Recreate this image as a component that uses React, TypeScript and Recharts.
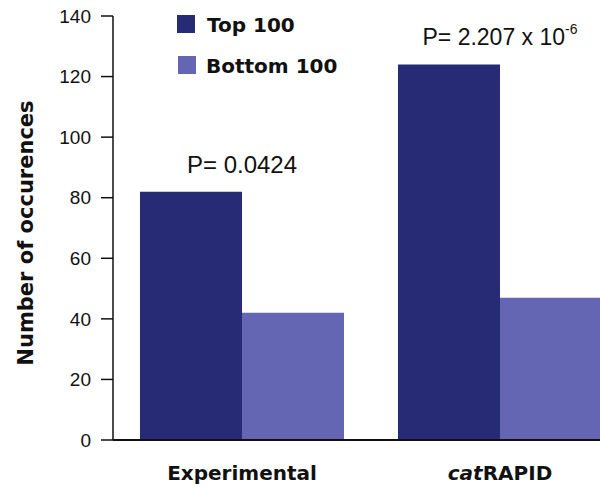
import React from 'react';
import { BarChart, Bar, XAxis, YAxis, Legend, LabelList } from 'recharts';

// Occurrence counts per method, split by top / bottom 100
const categories = ['Experimental', 'catRAPID'];
const top100 = [82, 124];
const bottom100 = [42, 47];

// Significance annotations above each group
const pBase = ['P= 0.0424', 'P= 2.207 x 10'];
const pExponent = ['', '-6'];

// Part of each category name set in italics
const italicPrefix = ['', 'cat'];

const yTicks = [0, 20, 40, 60, 80, 100, 120, 140];

const seriesNames = ['Top 100', 'Bottom 100'];
const TOP_COLOR = '#272A74';
const BOTTOM_COLOR = '#6466B4';
const INK = '#111111';

const BOLD_FONT = "'DejaVu Sans', sans-serif";
const PLAIN_FONT = "'Liberation Sans', Arial, sans-serif";

const data = categories.map((category, i) => ({
  category,
  top: top100[i],
  bottom: bottom100[i],
}));

const CategoryTick = (props: any) => {
  const { x, y, payload } = props;
  const name: string = payload.value;
  const idx = categories.indexOf(name);
  const prefix = idx >= 0 ? italicPrefix[idx] : '';
  const rest = name.slice(prefix.length);
  return (
    <text
      x={x}
      y={y + 40}
      textAnchor="middle"
      fontFamily={BOLD_FONT}
      fontWeight="bold"
      fontSize={20}
      fill={INK}
    >
      {prefix ? <tspan fontStyle="italic">{prefix}</tspan> : null}
      <tspan>{rest}</tspan>
    </text>
  );
};

const PLabel = (props: any) => {
  const { x, y, width, value } = props;
  const idx = categories.indexOf(value);
  if (idx < 0) return null;
  const exp = pExponent[idx];
  return (
    <text
      x={Number(x) + Number(width)}
      y={Number(y) - 19}
      textAnchor="middle"
      fontFamily={PLAIN_FONT}
      fontSize={idx === 0 ? 24 : 23}
      fill={INK}
    >
      <tspan>{pBase[idx]}</tspan>
      {exp ? (
        <tspan fontSize={14} dy={-11}>
          {exp}
        </tspan>
      ) : null}
    </text>
  );
};

const LegendBox = (props: any) => {
  const payload = [...(props.payload || [])].sort(
    (a: any, b: any) => seriesNames.indexOf(a.value) - seriesNames.indexOf(b.value)
  );
  return (
    <svg width={200} height={80} style={{ display: 'block' }}>
      {payload.map((item: any, i: number) => (
        <g key={item.value}>
          <rect x={7 + i} y={15 + i * 41} width={18} height={18} fill={item.color} />
          <text
            x={37 - i}
            y={32 + i * 41}
            fontFamily={BOLD_FONT}
            fontWeight="bold"
            fontSize={20}
            fill={INK}
          >
            {item.value}
          </text>
        </g>
      ))}
    </svg>
  );
};

const AxisTitle = (props: any) => {
  const vb = props.viewBox || { y: 16, height: 424 };
  const cy = vb.y + vb.height / 2 + 5;
  return (
    <text
      x={33}
      y={cy}
      transform={`rotate(-90, 33, ${cy})`}
      textAnchor="middle"
      fontFamily={BOLD_FONT}
      fontWeight="bold"
      fontSize={21}
      fill={INK}
    >
      Number of occurences
    </text>
  );
};

export default function App() {
  return (
    <div
      style={{
        position: 'fixed',
        left: 0,
        top: 0,
        width: 600,
        height: 489,
        overflow: 'hidden',
        background: '#ffffff',
      }}
    >
      <BarChart
        width={640}
        height={489}
        data={data}
        margin={{ top: 16, right: 11, bottom: 0, left: 0 }}
        barCategoryGap={27}
        barGap={0}
      >
        <XAxis
          dataKey="category"
          height={49}
          tickSize={0}
          tickMargin={0}
          tickLine={false}
          axisLine={{ stroke: INK, strokeWidth: 2 }}
          tick={<CategoryTick />}
          interval={0}
        />
        <YAxis
          width={113}
          domain={[0, 140]}
          ticks={yTicks}
          interval={0}
          tickSize={12}
          tickMargin={10}
          axisLine={{ stroke: INK, strokeWidth: 1.5 }}
          tickLine={{ stroke: INK, strokeWidth: 1.5 }}
          tick={{ fill: INK, fontSize: 19, fontFamily: PLAIN_FONT }}
          label={<AxisTitle />}
        />
        <Legend
          layout="vertical"
          align="center"
          verticalAlign="middle"
          content={<LegendBox />}
          wrapperStyle={{ left: 170, top: 0, width: 200, height: 80 }}
        />
        <Bar dataKey="top" name={seriesNames[0]} fill={TOP_COLOR} isAnimationActive={false}>
          <LabelList dataKey="category" content={<PLabel />} />
        </Bar>
        <Bar dataKey="bottom" name={seriesNames[1]} fill={BOTTOM_COLOR} isAnimationActive={false} />
      </BarChart>
    </div>
  );
}
